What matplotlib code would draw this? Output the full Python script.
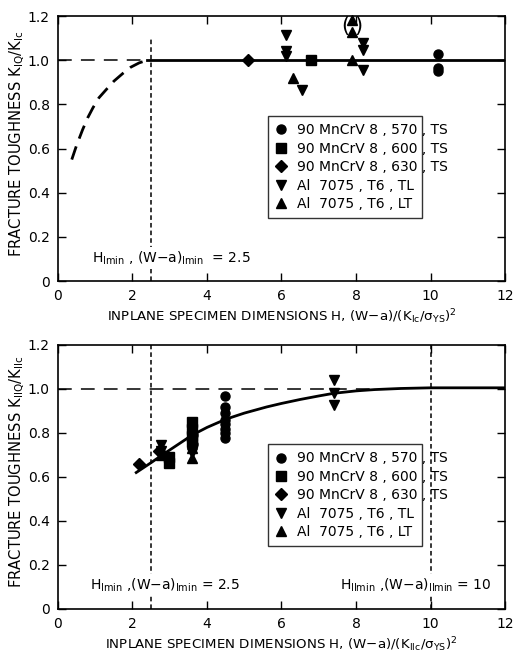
import matplotlib
matplotlib.use("Agg")
import matplotlib.pyplot as plt
import numpy as np

plt.rcParams['font.family'] = ['DejaVu Sans']
plt.rcParams['mathtext.default'] = 'regular'

# ---- top panel (mode I) ----
top_dash_x = [0.37, 0.5, 0.66, 0.8, 0.94, 1.1, 1.29, 1.5, 1.74, 1.95, 2.18, 2.4]
top_dash_y = [0.55, 0.615, 0.685, 0.74, 0.785, 0.83, 0.866, 0.905, 0.94, 0.968, 0.988, 1.0]
top_fit_x = [2.4, 12.0]
top_fit_y = [1.0, 1.0]

top_570_x = [10.2, 10.2, 10.2]
top_570_y = [1.03, 0.965, 0.95]
top_600_x = [6.8]
top_600_y = [1.0]
top_630_x = [5.1]
top_630_y = [1.0]
top_tl_x = [6.13, 6.13, 6.13, 6.55, 8.18, 8.18, 8.18]
top_tl_y = [1.113, 1.04, 1.02, 0.865, 1.078, 1.045, 0.955]
top_lt_x = [6.32, 7.88, 7.88, 7.88]
top_lt_y = [0.92, 1.003, 1.128, 1.18]

# ---- bottom panel (mode II) ----
bot_fit_x = [2.1, 2.5, 2.8, 3.2, 3.6, 4.0, 4.5, 5.0, 5.6, 6.0, 6.5, 7.0, 7.4, 8.0, 8.5, 9.2, 10.0, 12.0]
bot_fit_y = [0.62, 0.665, 0.70, 0.745, 0.79, 0.825, 0.862, 0.89, 0.918, 0.934, 0.952, 0.968,
             0.98, 0.991, 0.997, 1.002, 1.005, 1.005]

bot_570_x = [4.47, 4.47, 4.47, 4.47, 4.47, 4.47, 4.47, 4.47, 3.62, 3.62]
bot_570_y = [0.97, 0.92, 0.89, 0.86, 0.84, 0.82, 0.80, 0.775, 0.79, 0.75]
bot_600_x = [2.98, 2.98, 3.6, 3.6, 3.6, 3.6]
bot_600_y = [0.69, 0.665, 0.85, 0.82, 0.785, 0.76]
bot_630_x = [2.18, 2.72]
bot_630_y = [0.657, 0.72]
bot_tl_x = [2.76, 2.76, 3.6, 3.6, 7.4, 7.4, 7.4]
bot_tl_y = [0.745, 0.72, 0.74, 0.71, 1.04, 0.98, 0.928]
bot_lt_x = [2.76, 3.6, 3.6]
bot_lt_y = [0.70, 0.685, 0.73]

legend_labels = ["90 MnCrV 8 , 570 , TS", "90 MnCrV 8 , 600 , TS", "90 MnCrV 8 , 630 , TS",
                 "Al  7075 , T6 , TL", "Al  7075 , T6 , LT"]
x_ticks = [0, 2, 4, 6, 8, 10, 12]
y_ticks = [0, 0.2, 0.4, 0.6, 0.8, 1.0, 1.2]
y_ticklabels = ["0", "0.2", "0.4", "0.6", "0.8", "1.0", "1.2"]

FS = 10


def style_axes(ax, xlabel, ylabel):
    ax.set_xlim(0, 12)
    ax.set_ylim(0, 1.2)
    ax.set_xticks(x_ticks)
    ax.set_yticks(y_ticks)
    ax.set_yticklabels(y_ticklabels)
    ax.tick_params(direction='in', length=6, width=1, top=True, right=True,
                   labelsize=FS, pad=6)
    for s in ax.spines.values():
        s.set_linewidth(1.2)
    ax.set_xlabel(xlabel, fontsize=9.6)
    ax.xaxis.set_label_coords(0.5, -0.098)
    ax.set_ylabel(ylabel, fontsize=10.6)
    ax.yaxis.set_label_coords(-0.07, 0.52)


def scatter_sets(ax, sets):
    markers = ['o', 's', 'D', 'v', '^']
    handles = []
    for (xs, ys), m, lab in zip(sets, markers, legend_labels):
        h, = ax.plot(xs, ys, linestyle='none', marker=m, color='black', markersize=6.5,
                     label=lab, clip_on=False, zorder=4)
        handles.append(h)
    leg = ax.legend(handles=handles, loc='lower left', bbox_to_anchor=(0.47, 0.238, 0.345, 0.36),
                    mode='expand', fontsize=FS, frameon=True, fancybox=False, edgecolor='black',
                    handlelength=0.8, handletextpad=0.8, borderpad=0.5, labelspacing=0.32,
                    borderaxespad=0)
    leg.get_frame().set_linewidth(1.0)


fig = plt.figure(figsize=(5.15, 6.52), dpi=100)
ax1 = fig.add_axes([0.1126, 0.569, 0.868, 0.4064])
ax2 = fig.add_axes([0.1126, 0.066, 0.868, 0.405])

# top panel
ax1.plot([0, 2.4], [1.0, 1.0], color='black', lw=1.1, dashes=(9, 6))
ax1.plot(top_dash_x, top_dash_y, color='black', lw=2.0, dashes=(5, 3))
ax1.plot(top_fit_x, top_fit_y, color='black', lw=2.0)
ax1.plot([2.5, 2.5], [0, 1.1], color='black', lw=1.1, dashes=(3, 2))
scatter_sets(ax1, [(top_570_x, top_570_y), (top_600_x, top_600_y), (top_630_x, top_630_y),
                   (top_tl_x, top_tl_y), (top_lt_x, top_lt_y)])
ax1.text(7.71, 1.153, "(", fontsize=15, ha='center', va='center', clip_on=False)
ax1.text(8.07, 1.153, ")", fontsize=15, ha='center', va='center', clip_on=False)
ax1.text(0.9, 0.104, r"H$_{Imin}$ , (W$-$a)$_{Imin}$  = 2.5", fontsize=FS, va='center',
         bbox=dict(facecolor='white', edgecolor='none', pad=1.5), zorder=5)
style_axes(ax1, r"INPLANE SPECIMEN DIMENSIONS H, (W$-$a)/(K$_{Ic}$/$\sigma_{YS}$)$^2$",
           r"FRACTURE TOUGHNESS K$_{IQ}$/K$_{Ic}$")

# bottom panel
ax2.plot([0, 9.2], [1.0, 1.0], color='black', lw=1.1, dashes=(9, 6))
ax2.plot(bot_fit_x, bot_fit_y, color='black', lw=2.0)
ax2.plot([2.5, 2.5], [0, 1.2], color='black', lw=1.1, dashes=(3, 2))
ax2.plot([10, 10], [0, 1.2], color='black', lw=1.1, dashes=(3, 2))
scatter_sets(ax2, [(bot_570_x, bot_570_y), (bot_600_x, bot_600_y), (bot_630_x, bot_630_y),
                   (bot_tl_x, bot_tl_y), (bot_lt_x, bot_lt_y)])
ax2.text(0.85, 0.109, r"H$_{Imin}$ ,(W$-$a)$_{Imin}$ = 2.5", fontsize=FS, va='center',
         bbox=dict(facecolor='white', edgecolor='none', pad=1.5), zorder=5)
ax2.text(11.65, 0.109, r"H$_{IImin}$ ,(W$-$a)$_{IImin}$ = 10", fontsize=FS, va='center', ha='right',
         bbox=dict(facecolor='white', edgecolor='none', pad=1.5), zorder=5)
style_axes(ax2, r"INPLANE SPECIMEN DIMENSIONS H, (W$-$a)/(K$_{IIc}$/$\sigma_{YS}$)$^2$",
           r"FRACTURE TOUGHNESS K$_{IIQ}$/K$_{IIc}$")

fig.savefig("out.png", dpi=100)
